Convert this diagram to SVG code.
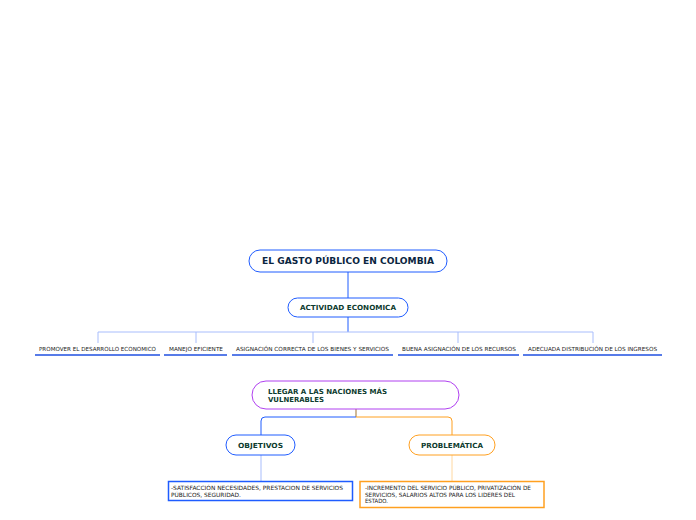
<svg xmlns="http://www.w3.org/2000/svg" width="696" height="520" viewBox="0 0 696 520">
<style>
.t{font-family:"DejaVu Sans",Verdana,sans-serif;font-weight:bold;fill:#0d3b2e}
.s{font-family:"DejaVu Sans",Verdana,sans-serif;font-size:5.6px;fill:#222}
.b{font-family:"DejaVu Sans",Verdana,sans-serif;font-size:5.8px;fill:#222}
.ul{stroke:#1f4fe0;stroke-width:1.5}
.lb{fill:none;stroke:#a8bdfc;stroke-width:1}
</style>
<rect width="696" height="520" fill="#fff"/>
<g id="connectors" fill="none">
<line x1="348" y1="272" x2="348" y2="298" stroke="#1f5cff" stroke-width="1"/>
<line x1="348" y1="317" x2="348" y2="332" stroke="#1f5cff" stroke-width="1"/>
<path class="lb" d="M98 343V332H593V343M196 332V343M313 332V343M458 332V343"/>
<path d="M356 409V417" stroke="#b08a50" stroke-width="1.2"/>
<path d="M356 417H265Q261 417 261 421V435" stroke="#1f5cff" stroke-width="1"/>
<path d="M356 417H448Q452 417 452 421V435" stroke="#ffa020" stroke-width="1"/>
<line x1="261" y1="455" x2="261" y2="481" stroke="#a8bdfc" stroke-width="1"/>
<line x1="452" y1="455" x2="452" y2="481" stroke="#ffd8a0" stroke-width="1"/>
</g>
<g id="n-main">
<rect x="249" y="250" width="198" height="22" rx="11" fill="#fff" stroke="#1f5cff" stroke-width="1"/>
<text class="t" x="262" y="264.3" font-size="9" fill="#0a2540" textLength="172" lengthAdjust="spacingAndGlyphs" style="fill:#0a2540">EL GASTO PÚBLICO EN COLOMBIA</text>
</g>
<g id="n-actividad">
<rect x="288" y="298" width="120" height="19" rx="9.5" fill="#fff" stroke="#1f5cff" stroke-width="1"/>
<text class="t" x="300" y="310" font-size="7" textLength="96" lengthAdjust="spacingAndGlyphs">ACTIVIDAD ECONOMICA</text>
</g>
<g id="n-promover">
<text class="s" x="39" y="351" textLength="117" lengthAdjust="spacingAndGlyphs">PROMOVER EL DESARROLLO ECONOMICO</text>
<line class="ul" x1="35" y1="355" x2="160" y2="355"/>
</g>
<g id="n-manejo">
<text class="s" x="169" y="351" textLength="54" lengthAdjust="spacingAndGlyphs">MANEJO EFICIENTE</text>
<line class="ul" x1="164" y1="355" x2="227" y2="355"/>
</g>
<g id="n-asignacion">
<text class="s" x="236" y="351" textLength="153" lengthAdjust="spacingAndGlyphs">ASIGNACIÓN CORRECTA DE LOS BIENES Y SERVICIOS</text>
<line class="ul" x1="232" y1="355" x2="393" y2="355"/>
</g>
<g id="n-buena">
<text class="s" x="402" y="351" textLength="114" lengthAdjust="spacingAndGlyphs">BUENA ASIGNACIÓN DE LOS RECURSOS</text>
<line class="ul" x1="398" y1="355" x2="519" y2="355"/>
</g>
<g id="n-adecuada">
<text class="s" x="528" y="351" textLength="129" lengthAdjust="spacingAndGlyphs">ADECUADA DISTRIBUCIÓN DE LOS INGRESOS</text>
<line class="ul" x1="523" y1="355" x2="662" y2="355"/>
</g>
<g id="n-llegar">
<rect x="252" y="381" width="207" height="28" rx="14" fill="#fff" stroke="#b040f0" stroke-width="1"/>
<text class="t" x="268" y="394" font-size="7" textLength="119" lengthAdjust="spacingAndGlyphs">LLEGAR A LAS NACIONES MÁS</text>
<text class="t" x="268" y="402" font-size="7" textLength="56" lengthAdjust="spacingAndGlyphs">VULNERABLES</text>
</g>
<g id="n-objetivos">
<rect x="226" y="435" width="69" height="20" rx="10" fill="#fff" stroke="#1f5cff" stroke-width="1"/>
<text class="t" x="238" y="447.6" font-size="7" textLength="45" lengthAdjust="spacingAndGlyphs">OBJETIVOS</text>
</g>
<g id="n-problematica">
<rect x="409" y="435" width="86" height="20" rx="10" fill="#fff" stroke="#ffa020" stroke-width="1"/>
<text class="t" x="421" y="447.6" font-size="7" textLength="62" lengthAdjust="spacingAndGlyphs">PROBLEMÁTICA</text>
</g>
<g id="n-satisfaccion">
<rect x="168.5" y="481.5" width="184" height="19" fill="#fff" stroke="#1f5cff" stroke-width="1.5"/>
<text class="b" x="171" y="490" textLength="172" lengthAdjust="spacingAndGlyphs">-SATISFACCIÓN NECESIDADES, PRESTACION DE SERVICIOS</text>
<text class="b" x="171" y="497" textLength="70" lengthAdjust="spacingAndGlyphs">PÚBLICOS, SEGURIDAD.</text>
</g>
<g id="n-incremento">
<rect x="360" y="481.5" width="184" height="26" fill="#fff" stroke="#ffa020" stroke-width="1.5"/>
<text class="b" x="365" y="490" textLength="166" lengthAdjust="spacingAndGlyphs">-INCREMENTO DEL SERVICIO PÚBLICO, PRIVATIZACIÓN DE</text>
<text class="b" x="365" y="496.5" textLength="150" lengthAdjust="spacingAndGlyphs">SERVICIOS, SALARIOS ALTOS PARA LOS LIDERES DEL</text>
<text class="b" x="365" y="503" textLength="23" lengthAdjust="spacingAndGlyphs">ESTADO.</text>
</g>
</svg>
